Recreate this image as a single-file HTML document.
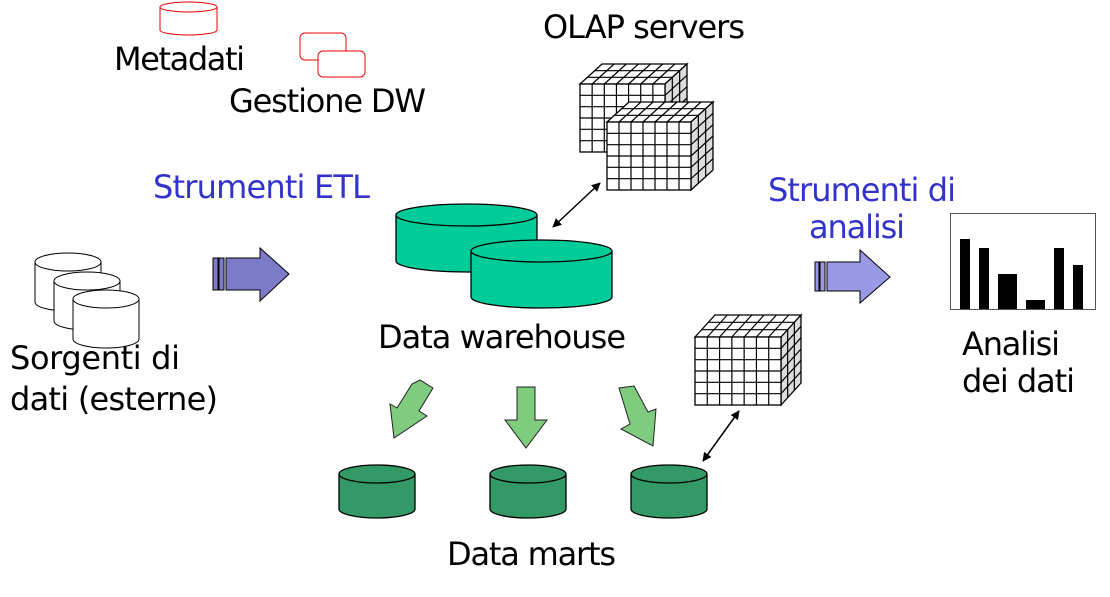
<!DOCTYPE html>
<html><head><meta charset="utf-8"><style>
html,body{margin:0;padding:0;background:#fff;}
svg{display:block}
text{font-family:"DejaVu Sans","Liberation Sans",sans-serif;font-size:32px;fill:#000}
.b{fill:#3333cc}
</style></head><body>
<svg id="s" width="1110" height="597" viewBox="0 0 1110 597" xmlns="http://www.w3.org/2000/svg">
<defs>
<marker id="ah" viewBox="0 0 10 10" refX="9" refY="5" markerWidth="9" markerHeight="9" markerUnits="userSpaceOnUse" orient="auto-start-reverse"><path d="M0,0L10,5L0,10z" fill="#000"/></marker>
</defs>
<path d="M160,7 V30 A28.5,5 0 0 0 217,30 V7" fill="#fff" stroke="#e00" stroke-width="1"/>
<ellipse cx="188.5" cy="7" rx="28.5" ry="5" fill="#fff" stroke="#e00"/>
<rect x="300" y="33" width="46" height="27" rx="5" fill="#fff" stroke="#e00"/>
<rect x="318" y="51" width="47" height="26" rx="5" fill="#fff" stroke="#e00"/>
<text x="114" y="70" textLength="131">Metadati</text>
<text x="229" y="112" textLength="197">Gestione DW</text>
<text x="543" y="38" textLength="202">OLAP servers</text>
<text class="b" x="153" y="198" textLength="217">Strumenti ETL</text>
<text class="b" x="768" y="201" textLength="188">Strumenti di</text>
<text class="b" x="809" y="238" textLength="96">analisi</text>
<text x="378" y="348" textLength="248">Data warehouse</text>
<text x="10" y="369" textLength="170">Sorgenti di</text>
<text x="10" y="410" textLength="208">dati (esterne)</text>
<text x="962" y="355" textLength="98">Analisi</text>
<text x="962" y="392" textLength="113">dei dati</text>
<text x="447" y="565" textLength="169">Data marts</text>
<g id="dyn"></g>
<rect x="213" y="258" width="5" height="32" fill="#7b7bc8" stroke="#000"/>
<rect x="219" y="258" width="5" height="32" fill="#7b7bc8" stroke="#000"/>
<path d="M226,258 H260 V248 L289,274 L260,301 V290 H226 Z" fill="#7b7bc8" stroke="#000"/>
<rect x="815" y="262" width="4" height="29" fill="#9999e6" stroke="#000"/>
<rect x="820" y="262" width="5" height="29" fill="#9999e6" stroke="#000"/>
<path d="M827,262 H860 V250 L890,277 L860,303 V291 H827 Z" fill="#9999e6" stroke="#000"/>
<rect x="950.5" y="213.5" width="145" height="96" fill="#fff" stroke="#555"/>
<g fill="#000"><rect x="960" y="239" width="10" height="70"/><rect x="979" y="248" width="10" height="61"/><rect x="998" y="274" width="19" height="35"/><rect x="1026" y="300" width="19" height="9"/><rect x="1054" y="248" width="10" height="61"/><rect x="1073" y="265" width="10" height="44"/></g>
<path d="M420,380 L433,388 L419,411 L427,416 L394,438 L390,404 L397,408 L412,384 Z" fill="#7fcc7f" stroke="#222"/>
<path d="M517,387 H535 V420 H547 L526,448 L505,420 H517 Z" fill="#7fcc7f" stroke="#222"/>
<path d="M619,388 L634,386 L648,412 L656,409 L653,446 L621,429 L630,424 Z" fill="#7fcc7f" stroke="#222"/>
<line x1="553" y1="227" x2="600" y2="183" stroke="#000" stroke-width="1.5" marker-start="url(#ah)" marker-end="url(#ah)"/>
<line x1="703" y1="461" x2="739" y2="411" stroke="#000" stroke-width="1.5" marker-start="url(#ah)" marker-end="url(#ah)"/>
</svg>
<script>
var g=document.getElementById('dyn'),h='';
function cyl(x,y,w,ry,hh,fill,sw){var rx=w/2,cx=x+rx;
h+='<path d="M'+x+','+y+' V'+(y+hh)+' A'+rx+','+ry+' 0 0 0 '+(x+w)+','+(y+hh)+' V'+y+'" fill="'+fill+'" stroke="#000" stroke-width="'+sw+'"/>';
h+='<ellipse cx="'+cx+'" cy="'+y+'" rx="'+rx+'" ry="'+ry+'" fill="'+fill+'" stroke="#000" stroke-width="'+sw+'"/>';}
cyl(35,262,66,9,40,'#fff',1);cyl(54,281,66,9,40,'#fff',1);cyl(73,299,66,9,40,'#fff',1);
cyl(396,215,141,11,46,'#00cc99',1.3);cyl(471,251,141,11,46,'#00cc99',1.3);
cyl(339,474,76,9,35,'#339966',1.3);cyl(490,474,76,9,35,'#339966',1.3);cyl(631,474,76,9,35,'#339966',1.3);
function cube(x,y,w,hh,dx,dy){var c=7,r=6,d=3,i,t;
h+='<polygon points="'+x+','+y+' '+(x+dx)+','+(y-dy)+' '+(x+w+dx)+','+(y-dy)+' '+(x+w)+','+y+'" fill="#fff" stroke="#000" stroke-width="1.3"/>';
h+='<polygon points="'+(x+w)+','+y+' '+(x+w+dx)+','+(y-dy)+' '+(x+w+dx)+','+(y+hh-dy)+' '+(x+w)+','+(y+hh)+'" fill="#ddd" stroke="#000" stroke-width="1.3"/>';
h+='<rect x="'+x+'" y="'+y+'" width="'+w+'" height="'+hh+'" fill="#fff" stroke="#000" stroke-width="1.3"/>';
var L=function(a,b,c2,d2){h+='<line x1="'+a+'" y1="'+b+'" x2="'+c2+'" y2="'+d2+'" stroke="#000" stroke-width="1.2"/>';};
for(i=1;i<c;i++){t=x+w*i/c;L(t,y,t,y+hh);L(t,y,t+dx,y-dy);}
for(i=1;i<r;i++){t=y+hh*i/r;L(x,t,x+w,t);L(x+w,t,x+w+dx,t-dy);}
for(i=1;i<d;i++){var ox=dx*i/d,oy=dy*i/d;L(x+ox,y-oy,x+w+ox,y-oy);L(x+w+ox,y-oy,x+w+ox,y+hh-oy);}}
cube(580,84,85,68,22,20);cube(607,122,84,68,22,20);cube(695,337,86,68,20,22);
g.innerHTML=h;
</script>
</body></html>
